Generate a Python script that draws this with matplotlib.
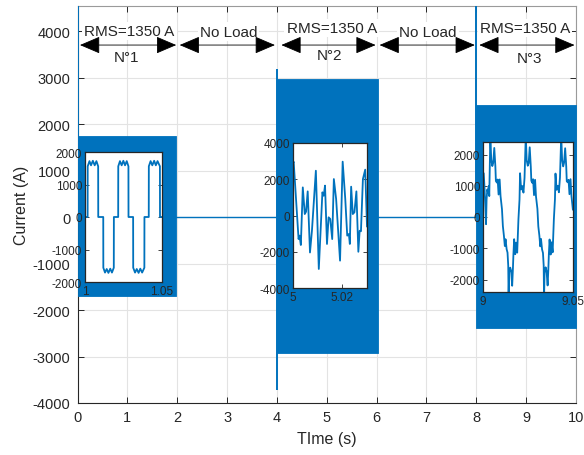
import numpy as np
import matplotlib
matplotlib.use("Agg")
import matplotlib.pyplot as plt

plt.rcParams['font.family'] = ['Liberation Sans', 'DejaVu Sans']
plt.rcParams['axes.unicode_minus'] = False

BLUE = '#0072BD'
DARK = '#262626'

# ---- main trace: loaded intervals (envelope of the 50 Hz current) ----
seg_start = [0.0, 4.0, 8.0]
seg_end = [1.97, 6.02, 10.0]
seg_upper = [1750, 2960, 2420]
seg_lower = [-1700, -2920, -2380]

# switching transients at the start of each load step
spike_t = [0.0, 4.0, 8.0]
spike_hi = [4700, 3180, 4700]
spike_lo = [0, -3730, 0]

# ---- zoomed windows (time offset in ms, current in A) ----
z1_t0 = 1.0
z1_ms = [0.0, 1.70, 1.75, 2.9, 3.9, 5.1, 6.3, 7.4, 8.55, 8.60,
         11.85, 11.90, 13.0, 14.1, 15.2, 16.4, 17.5, 18.70, 18.75,
         21.55, 21.60, 22.7, 23.8, 24.9, 26.0, 27.1, 28.20, 28.25,
         31.25, 31.30, 32.5, 33.6, 34.8, 35.9, 37.1, 38.55, 38.60,
         41.40, 41.45, 42.6, 43.7, 44.9, 46.0, 47.1, 48.65, 48.70, 50.0]
z1_amp = [0, 0, 1560, 1720, 1590, 1730, 1590, 1720, 1560, 0,
          0, -1560, -1710, -1600, -1720, -1590, -1710, -1560, 0,
          0, 1560, 1720, 1590, 1730, 1590, 1720, 1560, 0,
          0, -1560, -1710, -1600, -1720, -1590, -1710, -1560, 0,
          0, 1560, 1720, 1590, 1730, 1590, 1720, 1560, 0, 0]

z2_t0 = 5.0
z2_ms = [0.0, 0.27, 2.27, 2.67, 3.2, 4.0, 4.8, 5.33, 6.0, 6.93, 7.73,
         9.33, 10.53, 12.0, 12.53, 13.07, 13.87, 14.53, 15.2, 16.0,
         16.67, 17.6, 19.2, 20.27, 21.33, 22.13, 22.8, 23.2, 23.73,
         24.4, 25.07, 25.87, 26.67, 27.2, 27.73, 28.53, 29.47, 30.2]
z2_amp = [2900, 2970, -1300, -1110, -1630, 1550, 80, 210, 1330, -2040, -840,
          2470, -2950, 1280, 1090, 1650, -1570, -100, -190, -1300,
          2010, 910, -2490, 2970, 910, -1110, -1020, -1570, 1590,
          80, 175, 1330, -2000, -840, -870, 2010, 2530, -600]

z3_t0 = 9.0
z3_ms = [0.0, 0.4, 0.8, 1.3, 1.7, 2.0, 2.4, 2.8, 3.2, 3.5, 4.1,
         4.6, 5.2, 5.7, 6.3, 6.9, 7.2, 7.8, 8.2, 8.7, 9.3, 9.8,
         10.6, 11.1, 11.7, 12.2, 12.6, 13.2, 13.7, 14.1, 14.3, 14.6,
         15.2, 15.7, 16.3, 16.7, 17.0, 17.4, 18.0, 18.5, 19.1, 19.8,
         20.4, 20.7, 21.3, 22.0, 22.6, 23.2, 23.9,
         24.4, 25.0, 25.5, 26.1, 26.7, 27.0, 27.6, 28.0, 28.5, 29.1, 29.6,
         30.4, 30.9, 31.5, 32.0, 32.4, 33.0, 33.5, 33.9, 34.1, 34.4,
         35.0, 35.5, 36.1, 36.5, 36.8, 37.2, 37.8, 38.3, 38.9, 39.6,
         40.2, 40.5, 41.1, 41.8, 42.4, 43.0, 43.7,
         44.2, 44.8, 45.3, 45.9, 46.5, 46.8, 47.4, 47.8, 48.3, 48.9, 49.4, 50.2]
z3_amp = [1400, 1400, 990, 350, -230, 560, 880, 780, 990, 670, 2600,
          1840, 1630, 1730, 2210, 1630, 1150, 1100, 1200, 720, 1200, 670,
          250, -290, -610, -930, -710, -1030, -1140, -1560, -2600, -1780,
          -1620, -1720, -2200, -1670, -1190, -710, -1190, -820, -1140, -70,
          560, 1400, 880, 990, 780, 1250, 2600,
          1820, 1640, 1720, 2230, 1610, 1160, 1090, 1210, 700, 1190, 660,
          260, -300, -600, -940, -700, -1040, -1150, -1550, -2600, -1790,
          -1610, -1730, -2190, -1680, -1180, -720, -1200, -810, -1130, -60,
          570, 1390, 870, 1000, 790, 1260, 2600,
          1830, 1620, 1740, 2200, 1620, 1140, 1110, 1190, 730, 1210, 680, 240]

# ---- figure ----
fig = plt.figure(figsize=(5.84, 4.56), dpi=100)
ax = fig.add_axes([77.5 / 584, 52 / 456, (576 - 77.5) / 584, (404 - 7) / 456])

ax.plot([0, 10], [0, 0], color=BLUE, lw=1.0, zorder=2)
for s, e, hi, lo in zip(seg_start, seg_end, seg_upper, seg_lower):
    ax.fill_between([s, e], [lo, lo], [hi, hi], color=BLUE, lw=0.6,
                    edgecolor=BLUE, zorder=3)
ax.vlines(spike_t, spike_lo, spike_hi, color=BLUE, lw=1.4, zorder=3)

ax.set_xlim(0, 10)
ax.set_ylim(-4000, 4540)
ax.set_xticks(range(0, 11))
ax.set_yticks(range(-4000, 4001, 1000))
ax.grid(True, color='#e3e3e3', lw=0.8, zorder=0)
ax.set_axisbelow(True)
ax.tick_params(direction='in', top=True, right=True, length=4, width=0.7,
               colors=DARK, labelsize=10.5, pad=5)
for sp in ax.spines.values():
    sp.set_color(DARK)
    sp.set_linewidth(0.8)
ax.spines['top'].set_color('#9a9a9a')
ax.spines['right'].set_color('#9a9a9a')
ax.set_xlabel('TIme (s)', fontsize=11.5, color=DARK, labelpad=5)
ax.set_ylabel('Current (A)', fontsize=11.5, color=DARK, labelpad=3)

# ---- annotations above each interval ----
arrow_x0 = [0.05, 2.05, 4.09, 6.06, 8.06]
arrow_x1 = [1.98, 3.96, 5.98, 7.97, 9.97]
arrow_y = 3700
top_text = ['RMS=1350 A', 'No Load', 'RMS=1350 A', 'No Load', 'RMS=1350 A']
top_x = [1.04, 3.03, 5.10, 7.03, 8.98]
top_y = [4000, 3990, 4060, 3990, 4060]
sub_text = ['N°1', 'N°2', 'N°3']
sub_x = [0.99, 5.06, 9.06]
sub_y = [3450, 3480, 3420]

for x0, x1 in zip(arrow_x0, arrow_x1):
    ax.annotate('', xy=(x1, arrow_y), xytext=(x0, arrow_y),
                arrowprops=dict(arrowstyle='<|-|>,head_length=0.75,head_width=0.32',
                                mutation_scale=17, color='black', lw=0.6,
                                shrinkA=0, shrinkB=0),
                zorder=6, annotation_clip=False)
for t, x, y in zip(top_text, top_x, top_y):
    ax.text(x, y, t, ha='center', va='center', fontsize=11, color=DARK,
            zorder=5, bbox=dict(facecolor='white', edgecolor='none', pad=1.5))
for t, x, y in zip(sub_text, sub_x, sub_y):
    ax.text(x, y, t, ha='center', va='center', fontsize=11, color=DARK, zorder=5)


def zoom_axes(rect, t0, ms, amp, xlim, ylim, xticks, xticklabels, yticks):
    ia = fig.add_axes(rect)
    ia.plot([t0 + m / 1000.0 for m in ms], amp, color=BLUE, lw=1.3)
    ia.set_xlim(*xlim)
    ia.set_ylim(*ylim)
    ia.set_xticks(xticks)
    ia.set_xticklabels(xticklabels)
    ia.set_yticks(yticks)
    ia.tick_params(direction='in', top=True, right=True, length=3, width=0.6,
                   colors=DARK, labelsize=8.5, pad=2)
    ia.set_facecolor('white')
    for sp in ia.spines.values():
        sp.set_color(DARK)
        sp.set_linewidth(0.9)
    return ia


zoom_axes([85 / 584, (456 - 283) / 456, 77 / 584, 130 / 456], z1_t0, z1_ms, z1_amp,
          (1.0, 1.05), (-2000, 2000), [1.0, 1.05], ['1', '1.05'],
          [-2000, -1000, 0, 1000, 2000])
zoom_axes([293 / 584, (456 - 289) / 456, 74 / 584, 145 / 456], z2_t0, z2_ms, z2_amp,
          (5.0, 5.0302), (-4000, 4000), [5.0, 5.02], ['5', '5.02'],
          [-4000, -2000, 0, 2000, 4000])
zoom_axes([483 / 584, (456 - 293) / 456, 89.5 / 584, 150 / 456], z3_t0, z3_ms, z3_amp,
          (9.0, 9.05), (-2400, 2400), [9.0, 9.05], ['9', '9.05'],
          [-2000, -1000, 0, 1000, 2000])

fig.savefig('out.png', dpi=100)
